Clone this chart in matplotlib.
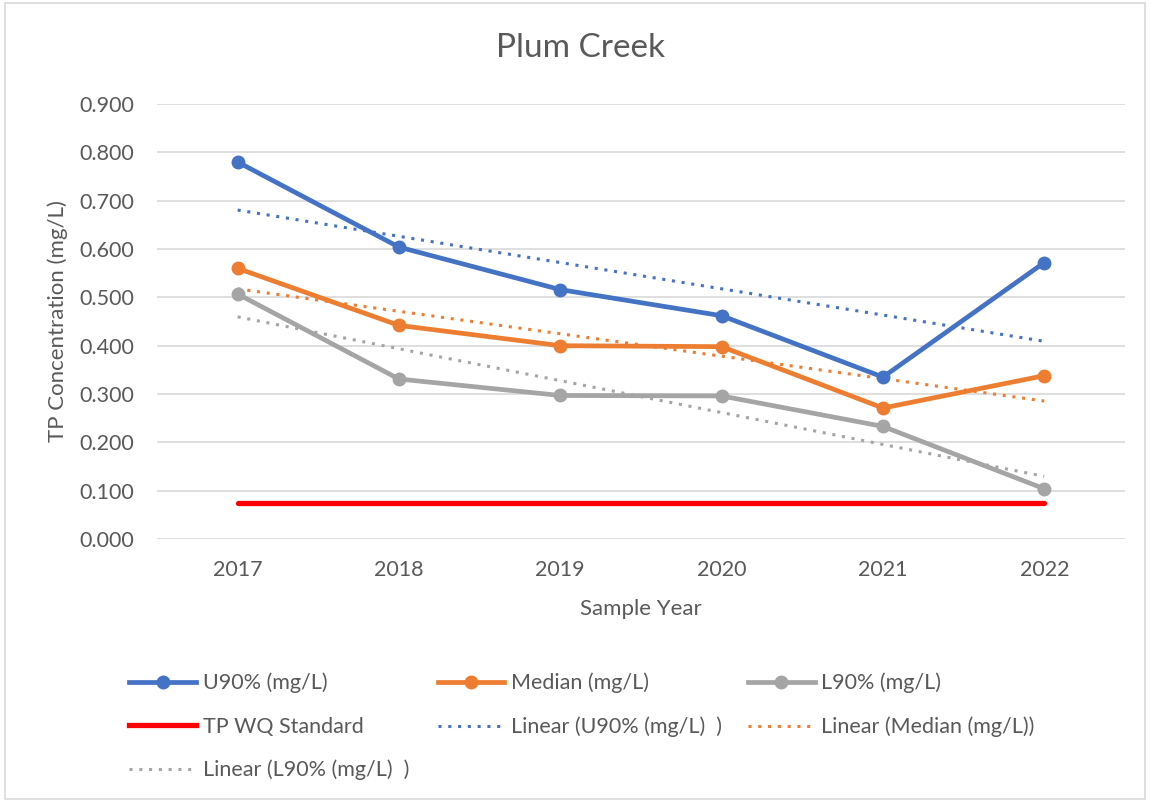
import numpy as np
import matplotlib
matplotlib.use("Agg")
import matplotlib.pyplot as plt
from matplotlib.lines import Line2D
from matplotlib.patches import Rectangle

years = ["2017", "2018", "2019", "2020", "2021", "2022"]
u90 = [0.780, 0.604, 0.516, 0.462, 0.335, 0.572]
median = [0.560, 0.442, 0.400, 0.398, 0.271, 0.338]
l90 = [0.507, 0.331, 0.297, 0.296, 0.233, 0.104]
standard = [0.075, 0.075, 0.075, 0.075, 0.075, 0.075]

blue = "#4472C4"
orange = "#ED7D31"
gray = "#A5A5A5"
red = "#FF0000"
txt = "#595959"

plt.rcParams['font.family'] = ['Lato', 'DejaVu Sans']

fig = plt.figure(figsize=(11.5, 8.02), dpi=100)
ax = fig.add_axes([0.1365, 0.3279, 0.8417, 0.5424])
fig.patches.append(Rectangle((0.004, 0.004), 0.992, 0.992, transform=fig.transFigure,
                             fill=False, edgecolor="#D9D9D9", linewidth=1.2))

x = np.arange(len(years))

# trend lines
for vals, c in [(u90, blue), (median, orange), (l90, gray)]:
    p = np.polyfit(x, vals, 1)
    ax.plot(x, np.polyval(p, x), linestyle=(0, (1, 2.2)), color=c, lw=2.2, zorder=2)

ax.plot(x, standard, color=red, lw=3.8, solid_capstyle="round", zorder=3)
for vals, c in [(u90, blue), (median, orange), (l90, gray)]:
    ax.plot(x, vals, color=c, lw=3.4, marker="o", markersize=9, zorder=4)

ax.set_xlim(-0.5, 5.5)
ax.set_ylim(0, 0.9)
ax.set_yticks(np.arange(0, 0.91, 0.1))
ax.set_yticklabels([f"{v:.3f}" for v in np.arange(0, 0.91, 0.1)])
ax.set_xticks(x)
ax.set_xticklabels(years)
ax.grid(axis="y", color="#D9D9D9", lw=1.2)
ax.set_axisbelow(True)
for s in ax.spines.values():
    s.set_visible(False)
ax.tick_params(length=0, labelsize=15.5, colors=txt)
ax.tick_params(axis="x", pad=15)
ax.tick_params(axis="y", pad=16.5)

fig.text(0.505, 1 - 48 / 802, "Plum Creek", fontsize=24, color=txt, ha="center", va="center")
ax.set_xlabel("Sample Year", fontsize=16, color=txt, labelpad=14)
ax.set_ylabel("TP Concentration (mg/L)", fontsize=16, color=txt, labelpad=8)

def h(c, marker=True, ls="-", lw=3.4):
    return Line2D([], [], color=c, lw=lw, ls=ls, marker="o" if marker else None, markersize=9)

cols = [
    ([h(blue), h(red, False, lw=3.8), h(gray, False, (0, (1, 2.2)), 2.2)],
     ["U90% (mg/L)", "TP WQ Standard", "Linear (L90% (mg/L)  )"], 0.105),
    ([h(orange), h(blue, False, (0, (1, 2.2)), 2.2)],
     ["Median (mg/L)", "Linear (U90% (mg/L)  )"], 0.373),
    ([h(gray), h(orange, False, (0, (1, 2.2)), 2.2)],
     ["L90% (mg/L)", "Linear (Median (mg/L))"], 0.643),
]
for hs, ls, xpos in cols:
    fig.legend(hs, ls, loc="upper left", bbox_to_anchor=(xpos, 0.172),
               bbox_transform=fig.transFigure, frameon=False, fontsize=15.5,
               labelcolor=txt, handlelength=3.1, handletextpad=0.3,
               labelspacing=1.08, borderaxespad=0)

fig.savefig("out.png", dpi=100)
